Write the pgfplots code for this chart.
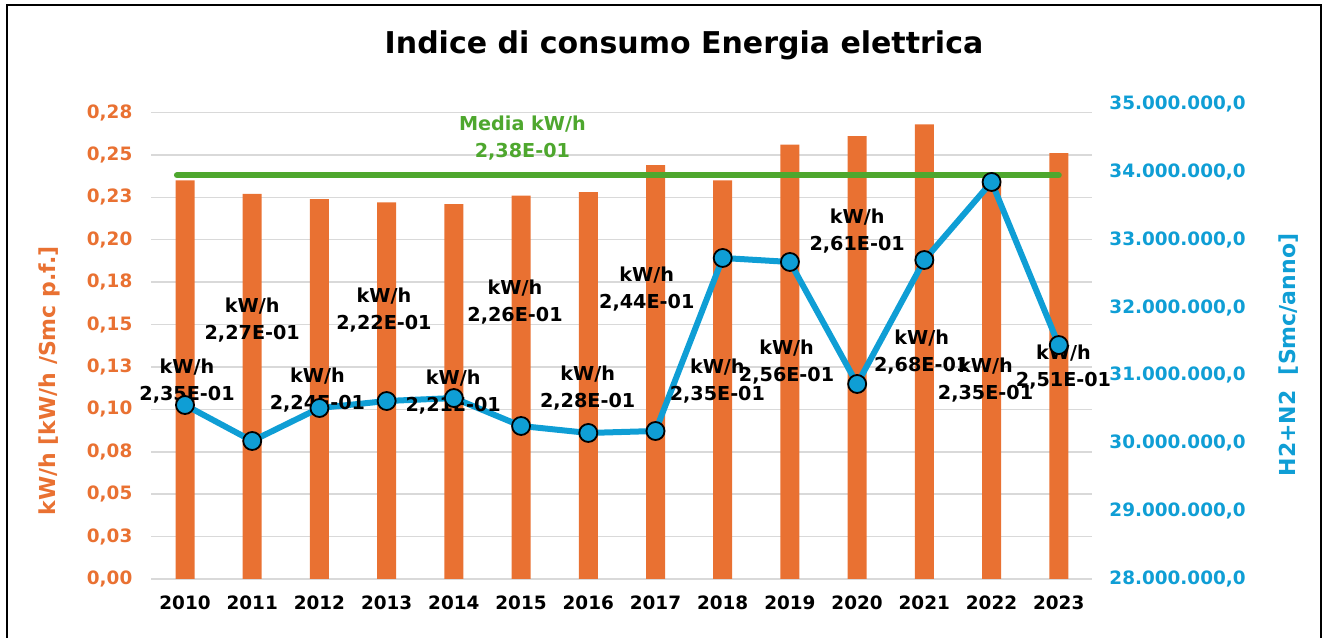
\documentclass[border=0pt]{standalone}
\usepackage{pgfplots}
\pgfplotsset{compat=1.18}
\usepackage{fontspec}
\setmainfont{DejaVu Sans}
\definecolor{barorange}{HTML}{E97132}
\definecolor{lineblue}{HTML}{0F9ED5}
\definecolor{meangreen}{HTML}{4EA72E}
\definecolor{gridgrey}{HTML}{D9D9D9}
\begin{document}
\begin{tikzpicture}
\useasboundingbox (0pt,0pt) rectangle (665pt,319pt);
\draw[black, line width=1pt] (3.5pt,0pt) -- (3.5pt,316.5pt) -- (660.5pt,316.5pt) -- (660.5pt,0pt);
\node[font=\fontsize{15}{18}\selectfont\bfseries] at (342pt,296.5pt) {Indice di consumo Energia elettrica};
\node[rotate=90, text=barorange, font=\fontsize{11}{13}\selectfont\bfseries] at (24.5pt,128.5pt) {kW/h [kW/h /Smc p.f.]};
\node[rotate=90, text=lineblue, font=\fontsize{11}{13}\selectfont\bfseries] at (644.5pt,141.5pt) {H2+N2\ \ [Smc/anno]};

\begin{axis}[
  at={(75.7pt,29.5pt)}, anchor=south west,
  scale only axis, width=470.5pt, height=237.5pt,
  xmin=2009.5, xmax=2023.5, ymin=0, ymax=0.28,
  axis y line*=left, axis x line*=bottom,
  axis line style={draw=none},
  major tick style={draw=none},
  xtick={2010,...,2023},
  xticklabels={2010,2011,2012,2013,2014,2015,2016,2017,2018,2019,2020,2021,2022,2023},
  ytick={0,0.025,0.05,0.075,0.1,0.125,0.15,0.175,0.2,0.225,0.25,0.275},
  yticklabels={{0,00},{0,03},{0,05},{0,08},{0,10},{0,13},{0,15},{0,18},{0,20},{0,23},{0,25},{0,28}},
  ymajorgrids, grid style={gridgrey, line width=0.75pt},
  yticklabel style={text=barorange, font=\fontsize{9.2}{11}\selectfont\bfseries},
  xticklabel style={text=black, font=\fontsize{9.2}{11}\selectfont\bfseries},
  y tick label style={xshift=-6pt},
  x tick label style={yshift=-5pt},
  clip=false,
]
\addplot[ybar, bar width=9.5pt, fill=barorange, draw=none] coordinates {
 (2010,0.235) (2011,0.227) (2012,0.224) (2013,0.222) (2014,0.221) (2015,0.226) (2016,0.228)
 (2017,0.244) (2018,0.235) (2019,0.256) (2020,0.261) (2021,0.268) (2022,0.235) (2023,0.251)};
\addplot[meangreen, line width=3pt, line cap=round, mark=none] coordinates {(2009.88,0.238) (2023,0.238)};
\end{axis}

\begin{axis}[
  at={(75.7pt,29.5pt)}, anchor=south west,
  scale only axis, width=470.5pt, height=237.5pt,
  xmin=2009.5, xmax=2023.5, ymin=28000000, ymax=35000000,
  axis y line*=right, axis x line=none,
  axis line style={draw=none},
  major tick style={draw=none},
  ytick={28000000,29000000,30000000,31000000,32000000,33000000,34000000,35000000},
  yticklabels={{28.000.000,0},{29.000.000,0},{30.000.000,0},{31.000.000,0},{32.000.000,0},{33.000.000,0},{34.000.000,0},{35.000.000,0}},
  yticklabel style={text=lineblue, font=\fontsize{9.2}{11}\selectfont\bfseries, xshift=5pt},
  scaled y ticks=false,
  clip=false,
]
\addplot[lineblue, line width=3pt, mark=*, mark size=4.5pt,
  mark options={fill=lineblue, draw=black, line width=0.9pt}] coordinates {
 (2010,30564000) (2011,30034000) (2012,30520000) (2013,30623000) (2014,30667000)
 (2015,30255000) (2016,30152000) (2017,30181000) (2018,32731000) (2019,32672000)
 (2020,30874000) (2021,32701000) (2022,33851000) (2023,31448000)};
\begin{scope}[every node/.style={align=center, font=\fontsize{9.6}{13.5}\selectfont\bfseries}]
\node at (axis cs:2010.03,30918000) {kW/h\\2,35E-01};
\node at (axis cs:2011.00,31817000) {kW/h\\2,27E-01};
\node at (axis cs:2011.97,30785000) {kW/h\\2,24E-01};
\node at (axis cs:2012.96,31964000) {kW/h\\2,22E-01};
\node at (axis cs:2013.99,30756000) {kW/h\\2,21E-01};
\node at (axis cs:2014.91,32082000) {kW/h\\2,26E-01};
\node at (axis cs:2015.99,30815000) {kW/h\\2,28E-01};
\node at (axis cs:2016.87,32274000) {kW/h\\2,44E-01};
\node at (axis cs:2017.92,30918000) {kW/h\\2,35E-01};
\node at (axis cs:2018.95,31198000) {kW/h\\2,56E-01};
\node at (axis cs:2020.00,33128000) {kW/h\\2,61E-01};
\node at (axis cs:2020.96,31345000) {kW/h\\2,68E-01};
\node at (axis cs:2021.91,30933000) {kW/h\\2,35E-01};
\node at (axis cs:2023.07,31124000) {kW/h\\2,51E-01};
\node[text=meangreen] at (axis cs:2015.02,34499000) {Media kW/h\\2,38E-01};
\end{scope}
\end{axis}
\end{tikzpicture}
\end{document}
